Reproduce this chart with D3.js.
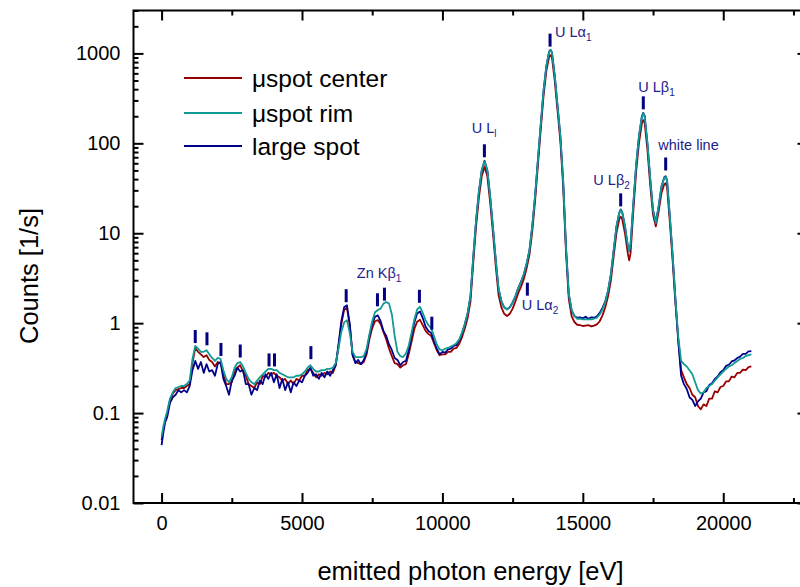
<!DOCTYPE html>
<html><head><meta charset="utf-8">
<script src="https://cdn.jsdelivr.net/npm/d3@7"></script>
<style>
body{margin:0;background:#fff}
svg{display:block}
text{font-family:"Liberation Sans",Arial,sans-serif}
</style>
</head><body>
<svg id="chart" width="800" height="587"></svg>
<script>
// ---------- DATA ----------
const energy = [
0,60,120,200,300,400,500,600,700,800,900,
1000,1100,1200,1300,1400,1500,1600,1700,1800,1900,
2000,2100,2200,2300,2400,2500,2600,2700,2800,2900,
3000,3100,3200,3300,3400,3500,3600,3700,3800,3900,
4000,4100,4200,4300,4400,4500,4600,4700,4800,4900,
5000,5100,5200,5300,5400,5500,5600,5700,5800,5900,
6000,6100,6200,6300,6400,6500,6600,6700,6800,6900,
7000,7100,7200,7300,7400,7500,7600,7700,7800,7900,
8000,8100,8200,8300,8400,8500,8600,8700,8800,8900,
9000,9100,9200,9300,9400,9500,9600,9700,9800,9900,
10000,10100,10200,10300,10400,10500,10600,10700,10800,10900,
11000,11100,11200,11300,11400,11500,11600,11700,11800,11900,
12000,12100,12200,12300,12400,12500,12600,12700,12800,12900,
13000,13100,13200,13300,13400,13500,13600,13700,13800,13850,
13900,14000,14100,14200,14300,14400,14500,14600,14700,14800,
14900,15000,15100,15200,15300,15400,15500,15600,15700,15800,
15900,16000,16100,16200,16300,16350,
16400,16500,16600,16650,16700,16800,16900,17000,17100,17150,
17200,17300,17400,17500,17600,17700,17800,17900,17950,
18000,18100,18200,18300,18400,
18500,18600,18700,18800,18900,19000,19100,19200,19300,19400,
19500,19600,19700,19800,19900,20000,20100,20200,20300,20400,
20500,20600,20700,20800,20900,21000
];

const centerCounts = [
0.05,0.065,0.08,0.1,0.14,0.165,0.18,0.185,0.19,0.19,0.2,
0.21,0.36,0.53,0.48,0.45,0.42,0.44,0.39,0.37,0.33,
0.37,0.36,0.28,0.21,0.21,0.22,0.30,0.32,0.34,0.29,
0.26,0.21,0.20,0.19,0.22,0.21,0.26,0.25,0.28,0.27,
0.28,0.26,0.25,0.23,0.24,0.21,0.23,0.21,0.24,0.23,
0.26,0.26,0.30,0.31,0.28,0.25,0.27,0.26,0.28,0.27,
0.29,0.28,0.34,0.55,0.98,1.40,1.48,0.95,0.45,0.37,
0.36,0.35,0.37,0.45,0.66,0.88,1.05,1.08,0.98,0.80,
0.66,0.52,0.43,0.36,0.35,0.32,0.34,0.35,0.45,0.62,
0.86,1.04,1.09,0.95,0.82,0.76,0.72,0.60,0.50,0.44,
0.45,0.45,0.48,0.48,0.52,0.53,0.59,0.70,0.88,1.15,
1.75,4.8,12,25,43,55,43,22,10,4.3,
2.05,1.5,1.27,1.2,1.27,1.45,1.75,2.15,2.55,3.1,
4.1,5.8,10.5,23,57,140,335,635,915,957,
900,495,230,105,33,6.2,1.85,1.2,1.03,0.96,
0.95,0.93,0.94,0.95,0.92,0.94,0.97,1.05,1.22,1.5,
2.0,3.0,5.6,10.2,14.5,15.3,
14.5,10,6.0,5.0,6.0,18,49,101,165,181,
170,85,34,16,11.9,17.5,28,35,36,
32.5,13,4.8,1.6,0.65,
0.30,0.25,0.21,0.19,0.16,0.15,0.12,0.11,0.125,0.12,
0.145,0.145,0.175,0.17,0.195,0.2,0.225,0.225,0.255,0.25,
0.28,0.28,0.305,0.30,0.325,0.33
];

const rimCounts = [
0.055,0.07,0.085,0.105,0.145,0.17,0.19,0.195,0.2,0.2,0.21,
0.23,0.40,0.56,0.52,0.48,0.48,0.50,0.45,0.41,0.38,
0.41,0.40,0.30,0.24,0.22,0.25,0.32,0.36,0.37,0.33,
0.28,0.24,0.22,0.21,0.23,0.25,0.27,0.29,0.31,0.31,
0.30,0.30,0.28,0.27,0.26,0.25,0.25,0.25,0.26,0.26,
0.27,0.29,0.32,0.34,0.31,0.29,0.29,0.30,0.30,0.31,
0.31,0.32,0.36,0.52,0.80,1.02,1.08,0.78,0.48,0.42,
0.42,0.42,0.43,0.52,0.75,1.05,1.32,1.40,1.45,1.65,
1.72,1.65,1.25,0.72,0.48,0.43,0.42,0.46,0.56,0.78,
1.10,1.42,1.52,1.30,1.08,0.95,0.88,0.72,0.58,0.51,
0.50,0.52,0.53,0.55,0.57,0.60,0.66,0.78,0.98,1.30,
2.0,5.5,14,29,50,63,50,25.6,11.5,5.0,
2.4,1.75,1.5,1.42,1.5,1.7,2.0,2.45,2.9,3.5,
4.6,6.5,12,26,65,160,380,720,1040,1088,
1020,560,260,120,38,7,2.1,1.4,1.2,1.12,
1.12,1.1,1.11,1.1,1.1,1.12,1.15,1.25,1.42,1.7,
2.3,3.5,6.5,12,17,18.2,
17.2,12,7.3,6.3,7.5,21.5,58,120,195,215,
200,100,40,18,13,20,33,41.5,42.6,
38,15,5.5,1.8,0.7,
0.38,0.35,0.33,0.30,0.27,0.22,0.18,0.165,0.17,0.19,
0.2,0.21,0.23,0.25,0.27,0.29,0.31,0.33,0.34,0.36,
0.38,0.4,0.41,0.43,0.44,0.45
];

const largeSpotCounts = [
0.044,0.06,0.078,0.09,0.13,0.15,0.16,0.18,0.17,0.18,0.17,
0.20,0.30,0.38,0.31,0.37,0.28,0.35,0.29,0.30,0.26,
0.35,0.37,0.24,0.20,0.16,0.23,0.26,0.32,0.29,0.30,
0.21,0.21,0.16,0.19,0.18,0.23,0.21,0.27,0.24,0.28,
0.22,0.27,0.19,0.24,0.18,0.22,0.17,0.22,0.20,0.23,
0.22,0.26,0.28,0.32,0.26,0.27,0.24,0.28,0.25,0.29,
0.26,0.30,0.34,0.58,1.05,1.50,1.58,0.98,0.44,0.36,
0.39,0.35,0.39,0.48,0.72,0.98,1.18,1.22,1.05,0.82,
0.72,0.58,0.50,0.41,0.39,0.34,0.37,0.38,0.50,0.72,
1.02,1.28,1.35,1.14,0.92,0.82,0.78,0.63,0.52,0.45,
0.48,0.47,0.51,0.52,0.56,0.57,0.64,0.78,0.98,1.30,
2.0,5.5,14,29,50,64,50,25.6,11.5,5.0,
2.4,1.75,1.5,1.43,1.5,1.7,2.0,2.45,2.9,3.5,
4.6,6.5,12,26,65,160,380,720,1050,1095,
1030,565,262,120,38,7,2.1,1.4,1.2,1.15,
1.16,1.13,1.18,1.12,1.16,1.15,1.19,1.3,1.48,1.75,
2.3,3.5,6.5,12,17,18.4,
17.3,12,7.3,6.3,7.5,21.5,58,120,197,218,
203,100,40,18,13.2,20,33,42,43,
38.5,15,5.5,1.8,0.62,
0.26,0.21,0.185,0.15,0.14,0.12,0.135,0.145,0.17,0.175,
0.205,0.215,0.24,0.255,0.285,0.3,0.335,0.345,0.375,0.385,
0.41,0.425,0.455,0.455,0.485,0.49
];

const seriesNames = ["\u03bcspot center", "\u03bcspot rim", "large spot"];
const seriesColors = ["#990000", "#129a94", "#00008c"];

const xMajorTicks = [0, 5000, 10000, 15000, 20000];
const xMinorTicks = [2500, 7500, 12500, 17500, 22500];
const yMajorTicks = [0.01, 0.1, 1, 10, 100, 1000];
const yTickLabels = ["0.01", "0.1", "1", "10", "100", "1000"];

// peak marker bars (energy, count at bar centre)
const markerEnergies = [1199,1616,2114,2801,3826,4021,5317,6573,7687,7936,9181,9623,11495,13025,13833,16348,17153,17950];
const markerCounts   = [0.71,0.67,0.51,0.49,0.39,0.39,0.47,2.02,1.82,2.1,1.99,1.0,82.6,2.39,1405,23.5,282,58.9];

// peak labels
const labelMain   = ["U L", "U L\u03b1", "U L\u03b1", "U L\u03b2", "U L\u03b2", "white line", "Zn K\u03b2"];
const labelSub    = ["l", "1", "2", "2", "1", "", "1"];
const labelEnergy = [11046, 14011, 12826, 15374, 16975, 17687, 6954];
const labelCount  = [130, 1528, 1.41, 34.4, 374, 84.4, 3.16];

// ---------- CHART ----------
const svg = d3.select("#chart");
const pLeft = 133.5, pRight = 807.5, pTop = 10.5, pBottom = 503;
const x = d3.scaleLinear().domain([-1000, 23000]).range([pLeft, pRight]);
const y = d3.scaleLog().domain([0.01, 3000]).range([pBottom, pTop]);

const yMinor = [];
[0.01, 0.1, 1, 10, 100, 1000].forEach(d => { for (let k = 2; k <= 9; k++) { const v = d * k; if (v <= 3000) yMinor.push(v); } });

const axisStyle = g => {
  g.select(".domain").remove();
  g.selectAll(".tick line").attr("stroke", "#000").attr("stroke-width", 2);
  g.selectAll(".tick text").attr("fill", "#000").attr("font-size", 20);
};

svg.append("g").attr("transform", `translate(0,${pBottom})`)
  .call(d3.axisBottom(x).tickValues(xMajorTicks).tickSize(-10).tickPadding(13).tickFormat(d3.format("d")))
  .call(axisStyle);
svg.append("g").attr("transform", `translate(0,${pBottom})`)
  .call(d3.axisBottom(x).tickValues(xMinorTicks).tickSize(-5).tickFormat(""))
  .call(axisStyle);
svg.append("g").attr("transform", `translate(0,${pTop})`)
  .call(d3.axisTop(x).tickValues(xMajorTicks).tickSize(-10).tickFormat(""))
  .call(axisStyle);
svg.append("g").attr("transform", `translate(0,${pTop})`)
  .call(d3.axisTop(x).tickValues(xMinorTicks).tickSize(-5).tickFormat(""))
  .call(axisStyle);
svg.append("g").attr("transform", `translate(${pLeft},0)`)
  .call(d3.axisLeft(y).tickValues(yMajorTicks).tickSize(-10).tickPadding(13).tickFormat((d, i) => yTickLabels[i]))
  .call(axisStyle);
svg.append("g").attr("transform", `translate(${pLeft},0)`)
  .call(d3.axisLeft(y).tickValues(yMinor).tickSize(-5).tickFormat(""))
  .call(axisStyle);
svg.append("g").attr("transform", `translate(${pRight},0)`)
  .call(d3.axisRight(y).tickValues(yMajorTicks).tickSize(-10).tickFormat(""))
  .call(axisStyle);
svg.append("g").attr("transform", `translate(${pRight},0)`)
  .call(d3.axisRight(y).tickValues(yMinor).tickSize(-5).tickFormat(""))
  .call(axisStyle);

svg.append("rect").attr("x", pLeft).attr("y", pTop).attr("width", pRight - pLeft).attr("height", pBottom - pTop)
  .attr("fill", "none").attr("stroke", "#000").attr("stroke-width", 2);

const seriesData = [centerCounts, largeSpotCounts, rimCounts];
const seriesCol = [seriesColors[0], seriesColors[2], seriesColors[1]];
const n = Math.min(energy.length, centerCounts.length, rimCounts.length, largeSpotCounts.length);
const line = d3.line().x(d => x(d[0])).y(d => y(d[1])).curve(d3.curveLinear);
seriesData.forEach((vals, si) => {
  const pts = d3.range(n).map(i => [energy[i], vals[i]]);
  svg.append("path").datum(pts).attr("d", line)
    .attr("fill", "none").attr("stroke", seriesCol[si]).attr("stroke-width", 1.8)
    .attr("stroke-linejoin", "round");
});

svg.append("g").selectAll("line").data(markerEnergies).join("line")
  .attr("x1", d => x(d)).attr("x2", d => x(d))
  .attr("y1", (d, i) => y(markerCounts[i]) - 6.5)
  .attr("y2", (d, i) => y(markerCounts[i]) + 6.5)
  .attr("stroke", "#000080").attr("stroke-width", 3);

labelMain.forEach((t, i) => {
  const tx = svg.append("text").attr("x", x(labelEnergy[i])).attr("y", y(labelCount[i]))
    .attr("fill", "#22228c").attr("font-size", 14.5).text(t);
  if (labelSub[i]) tx.append("tspan").attr("font-size", 10).attr("dy", 4).text(labelSub[i]);
});

const legendY = [78, 113, 146];
seriesNames.forEach((name, i) => {
  svg.append("line").attr("x1", 184).attr("x2", 242).attr("y1", legendY[i]).attr("y2", legendY[i])
    .attr("stroke", seriesColors[i]).attr("stroke-width", 2);
  svg.append("text").attr("x", 252).attr("y", legendY[i] + 8.5).attr("font-size", 24.5)
    .attr("fill", "#000").text(name);
});

svg.append("text").attr("x", (pLeft + pRight) / 2).attr("y", 580).attr("text-anchor", "middle")
  .attr("font-size", 25.5).attr("fill", "#000").text("emitted photon energy [eV]");
svg.append("text").attr("transform", "translate(38,276) rotate(-90)").attr("text-anchor", "middle")
  .attr("font-size", 25.5).attr("fill", "#000").text("Counts [1/s]");
</script>
</body></html>
